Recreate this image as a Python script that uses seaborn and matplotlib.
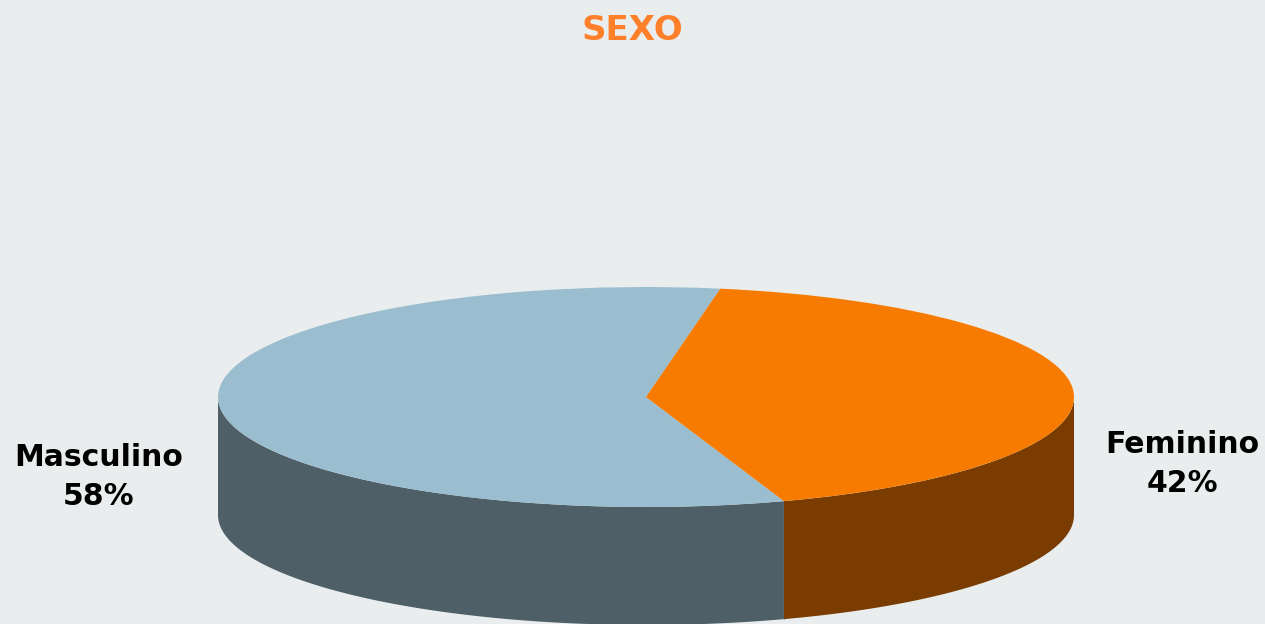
import numpy as np
import matplotlib
matplotlib.use('Agg')
import matplotlib.pyplot as plt
import seaborn as sns

# Data
categories = ['Masculino', 'Feminino']
values = [58, 42]
top_colors = ['#9ABDCF', '#F77B00']
side_colors = ['#4E5F68', '#7A3C00']
start_angle = 80  # degrees, where Masculino begins (counter-clockwise)

sns.set_theme(style='white')
plt.rcParams['font.family'] = ['DejaVu Sans']

bg = '#E9EDEE'
W, H = 1265, 624
fig = plt.figure(figsize=(W / 100, H / 100), dpi=100, facecolor=bg)
ax = fig.add_axes([0, 0, 1, 1], facecolor=bg)

# ellipse geometry in pixels -> unit circle coordinates
cx, cy, a, b = 646, 397, 428, 110
depth = 118 / b

# sides (only the front half of the rim is visible)
fracs = np.array(values) / sum(values)
edges = start_angle + 360 * np.concatenate([[0], np.cumsum(fracs)])
for i in range(len(values)):
    t1, t2 = edges[i], edges[i + 1]
    for shift in (0, 360):
        lo = max(t1, 180 + shift)
        hi = min(t2, 360 + shift)
        if hi <= lo:
            continue
        th = np.radians(np.linspace(lo, hi, 200))
        xs = np.concatenate([np.cos(th), np.cos(th[::-1])])
        ys = np.concatenate([np.sin(th), np.sin(th[::-1]) - depth])
        ax.fill(xs, ys, color=side_colors[i], lw=0, zorder=1)

# thin separator on the front rim at the wedge boundary
for e in edges[:-1]:
    ang = e % 360
    if 180 < ang < 360:
        x0, y0 = np.cos(np.radians(ang)), np.sin(np.radians(ang))
        ax.plot([x0, x0], [y0, y0 - depth], color='#8FA9B6', lw=0.9, zorder=2)

# top face
ax.pie(values, colors=top_colors, startangle=start_angle, counterclock=True,
       radius=1, center=(0, 0), wedgeprops=dict(linewidth=0), frame=False)
for p in ax.patches:
    p.set_zorder(3)

ax.set_aspect('auto')
ax.set_xlim(-cx / a, (W - cx) / a)
ax.set_ylim((cy - H) / b, cy / b)
ax.axis('off')

# title
fig.text(632 / W, 1 - 30 / H, 'SEXO', color='#FF7F2A', fontsize=24.5,
         fontweight='bold', ha='center', va='center')

# labels
label_pos = [(99, 477), (1182, 464)]
for cat, val, (lx, ly) in zip(categories, values, label_pos):
    fig.text(lx / W, 1 - ly / H, f'{cat}\n{val}%', color='black', fontsize=21.5,
             fontweight='bold', ha='center', va='center', linespacing=1.45)

fig.savefig('out.png', dpi=100, facecolor=bg)
